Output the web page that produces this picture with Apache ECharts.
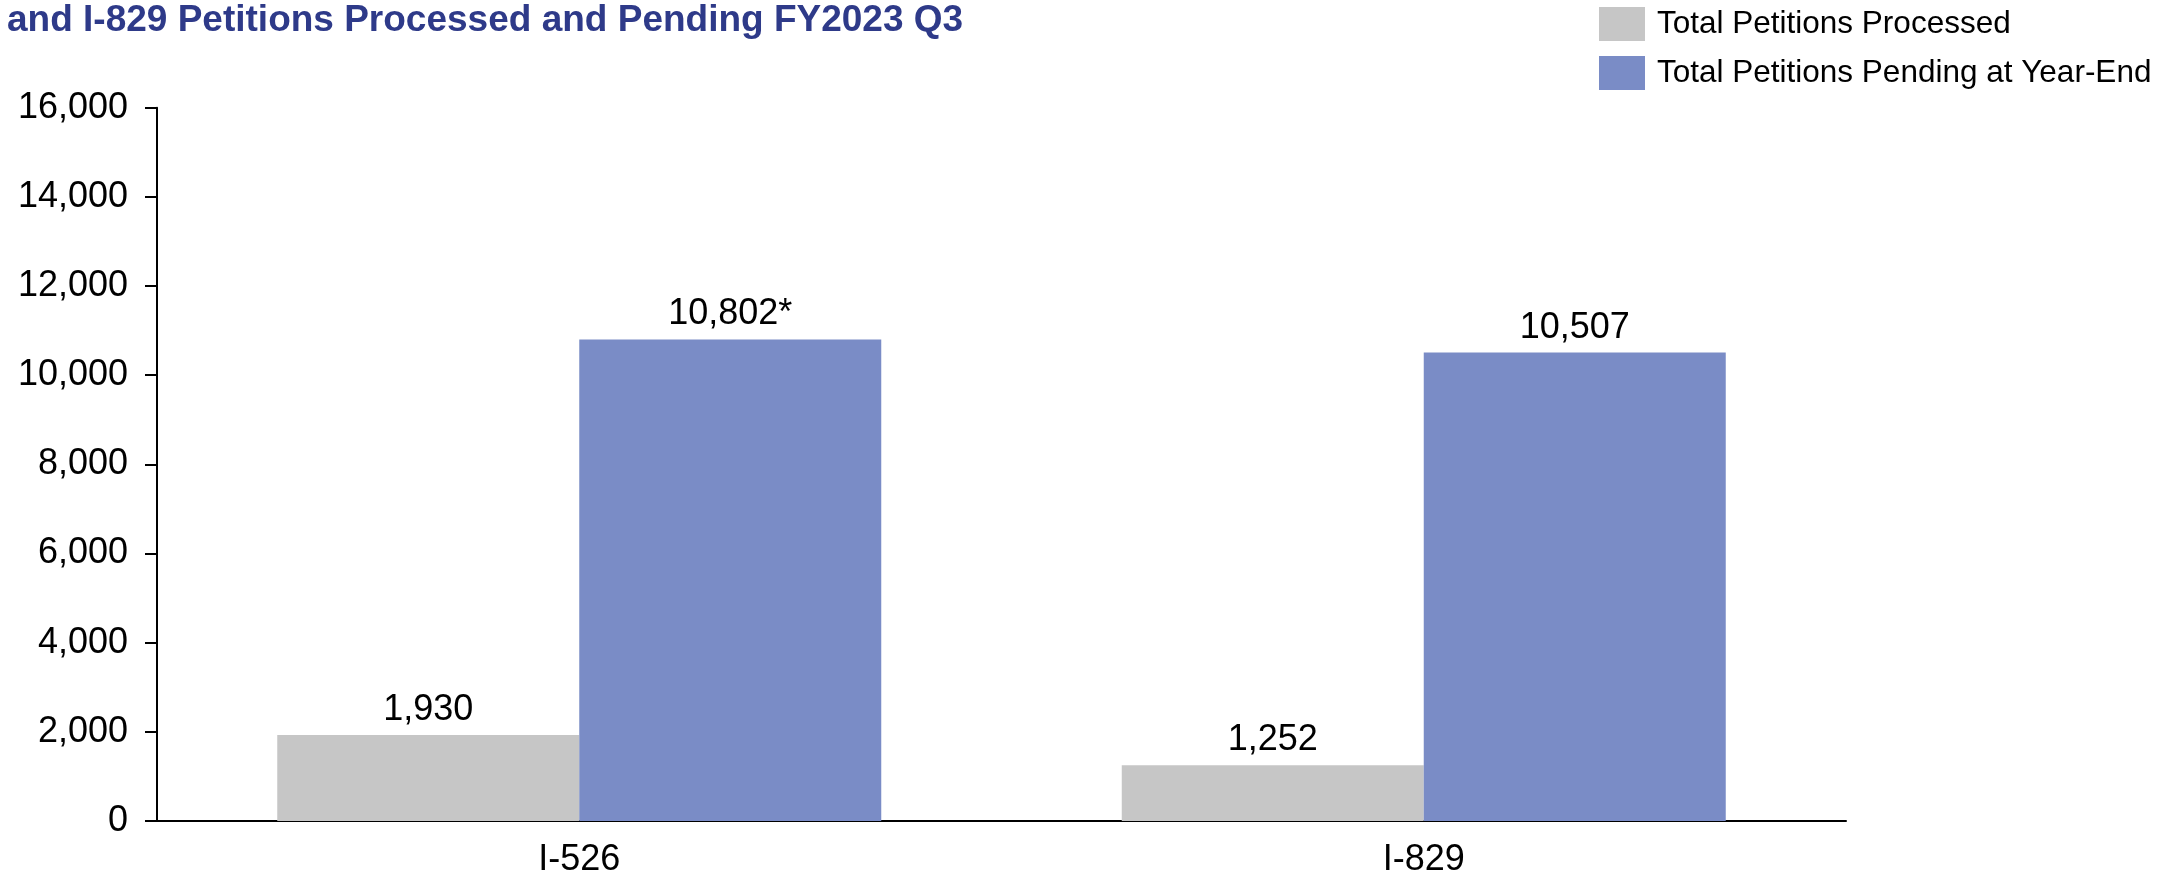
<!DOCTYPE html>
<html>
<head>
<meta charset="utf-8">
<script src="https://cdn.jsdelivr.net/npm/echarts@6/dist/echarts.min.js"></script>
<style>
  html, body { margin: 0; padding: 0; background: #ffffff; }
  #chart { width: 2182px; height: 878px; }
</style>
</head>
<body>
<div id="chart"></div>
<script>
// Petition form types on the category axis
const categories = ['I-526', 'I-829'];
// Series names as shown in the legend
const seriesNames = ['Total Petitions Processed', 'Total Petitions Pending at Year-End'];
// Petitions processed during the period
const processedValues = [1930, 1252];
// Petitions pending at year-end
const pendingValues = [10802, 10507];
// Footnote markers attached to pending value labels
const pendingNotes = ['*', ''];
// Value axis ticks
const yTicks = [0, 2000, 4000, 6000, 8000, 10000, 12000, 14000, 16000];

const titleText = 'and I-829 Petitions Processed and Pending FY2023 Q3';
const FONT = "'Liberation Sans', Arial, Helvetica, sans-serif";
const fmt = v => Number(v).toLocaleString('en-US');

const chart = echarts.init(document.getElementById('chart'), null, { renderer: 'canvas' });

const labelStyle = {
  show: true,
  position: 'top',
  distance: 7,
  color: '#000000',
  fontFamily: FONT,
  fontSize: 36
};

chart.setOption({
  backgroundColor: '#ffffff',
  animation: false,
  title: {
    text: titleText,
    left: 7,
    top: 2,
    padding: 0,
    textStyle: {
      color: '#2E3A89',
      fontFamily: FONT,
      fontWeight: 'bold',
      fontSize: 37
    }
  },
  legend: {
    orient: 'vertical',
    left: 1599,
    top: 7,
    padding: 0,
    itemWidth: 46,
    itemHeight: 34,
    itemGap: 15,
    icon: 'rect',
    data: seriesNames,
    textStyle: {
      color: '#000000',
      fontFamily: FONT,
      fontSize: 31.5,
      padding: [2, 0, 0, 7]
    }
  },
  grid: {
    left: 157,
    right: 336,
    top: 107.7,
    bottom: 56.3,
    containLabel: false
  },
  xAxis: {
    type: 'category',
    data: categories,
    axisLine: { show: true, lineStyle: { color: '#000000', width: 2 } },
    axisTick: { show: false },
    axisLabel: {
      color: '#000000',
      fontFamily: FONT,
      fontSize: 36,
      margin: 21
    }
  },
  yAxis: {
    type: 'value',
    min: yTicks[0],
    max: yTicks[yTicks.length - 1],
    interval: yTicks[1] - yTicks[0],
    splitLine: { show: false },
    axisLine: { show: true, lineStyle: { color: '#000000', width: 2 } },
    axisTick: { show: true, length: 12, lineStyle: { color: '#000000', width: 2 } },
    axisLabel: {
      color: '#000000',
      fontFamily: FONT,
      fontSize: 36,
      margin: 29,
      formatter: v => fmt(v)
    }
  },
  series: [
    {
      name: seriesNames[0],
      type: 'bar',
      data: processedValues,
      barWidth: 302,
      barGap: '0%',
      itemStyle: { color: '#C6C6C6' },
      label: Object.assign({}, labelStyle, {
        formatter: p => fmt(p.value)
      })
    },
    {
      name: seriesNames[1],
      type: 'bar',
      data: pendingValues,
      barWidth: 302,
      barGap: '0%',
      itemStyle: { color: '#7A8CC6' },
      label: Object.assign({}, labelStyle, {
        formatter: p => fmt(p.value) + pendingNotes[p.dataIndex]
      })
    }
  ]
});
</script>
</body>
</html>
